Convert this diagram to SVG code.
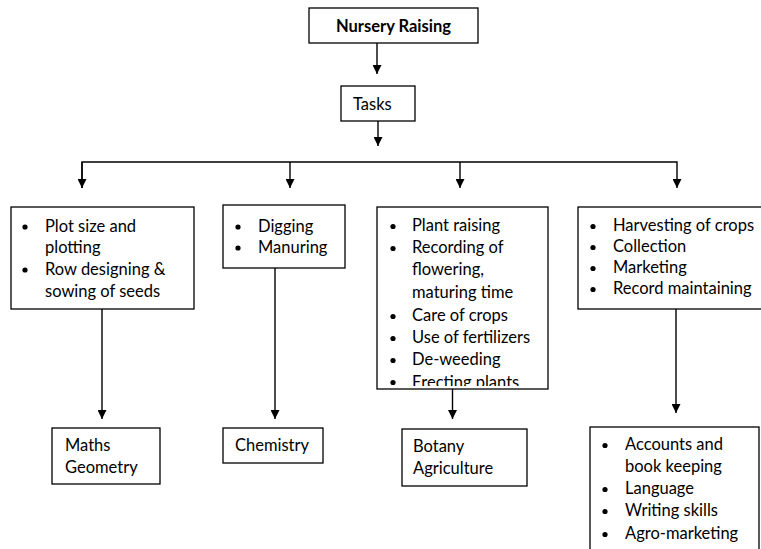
<svg xmlns="http://www.w3.org/2000/svg" width="761" height="549" viewBox="0 0 761 549">
<style>
.box{fill:#fff;stroke:#000;stroke-width:1.3}
.t{font-family:Lato,"Open Sans",sans-serif;font-size:16.5px;fill:#000}
.b{font-weight:bold}
.con{fill:none;stroke:#000;stroke-width:1.4}
.dot{fill:#000}
</style>
<defs>
<marker id="ah" markerUnits="userSpaceOnUse" markerWidth="9" markerHeight="9" refX="9" refY="4.5" orient="auto">
<path d="M0,0 L9,4.5 L0,9 z" fill="#000"/>
</marker>
<clipPath id="clip3"><rect x="377" y="207" width="171" height="179"/></clipPath>
</defs>
<rect width="761" height="549" fill="#fff"/>
<g id="connectors">
<line class="con" x1="377" y1="43" x2="377" y2="74" marker-end="url(#ah)"/>
<line class="con" x1="378" y1="121" x2="378" y2="146" marker-end="url(#ah)"/>
<polyline class="con" points="82,188 82,162 677,162 677,188" marker-end="url(#ah)"/>
<line class="con" x1="82" y1="162" x2="82" y2="188" marker-end="url(#ah)"/>
<line class="con" x1="290" y1="162" x2="290" y2="188" marker-end="url(#ah)"/>
<line class="con" x1="460" y1="162" x2="460" y2="188" marker-end="url(#ah)"/>
<line class="con" x1="102" y1="309" x2="102" y2="419" marker-end="url(#ah)"/>
<line class="con" x1="275" y1="268" x2="275" y2="419" marker-end="url(#ah)"/>
<line class="con" x1="452.5" y1="389" x2="452.5" y2="419" marker-end="url(#ah)"/>
<line class="con" x1="676" y1="309" x2="676" y2="413" marker-end="url(#ah)"/>
</g>
<g id="nursery">
<rect class="box" x="309" y="8" width="169" height="35"/>
<text class="t b" x="393.5" y="31.5" text-anchor="middle">Nursery Raising</text>
</g>
<g id="tasks">
<rect class="box" x="341" y="86" width="74" height="35"/>
<text class="t" x="353" y="109.5">Tasks</text>
</g>
<g id="task1">
<rect class="box" x="11" y="207" width="183" height="102"/>
<circle class="dot" cx="25" cy="227" r="2.6"/>
<circle class="dot" cx="25" cy="270" r="2.6"/>
<text class="t" x="45" y="232">Plot size and</text>
<text class="t" x="45" y="253">plotting</text>
<text class="t" x="45" y="275">Row designing &amp;</text>
<text class="t" x="45" y="297">sowing of seeds</text>
</g>
<g id="task2">
<rect class="box" x="223" y="205" width="122" height="63"/>
<circle class="dot" cx="238" cy="227" r="2.6"/>
<circle class="dot" cx="238" cy="248" r="2.6"/>
<text class="t" x="258" y="232">Digging</text>
<text class="t" x="258" y="253">Manuring</text>
</g>
<g id="task3">
<rect class="box" x="377" y="207" width="171" height="182"/>
<g clip-path="url(#clip3)">
<circle class="dot" cx="393" cy="226.5" r="2.6"/>
<circle class="dot" cx="393" cy="248.5" r="2.6"/>
<circle class="dot" cx="393" cy="316.5" r="2.6"/>
<circle class="dot" cx="393" cy="338.5" r="2.6"/>
<circle class="dot" cx="393" cy="360.5" r="2.6"/>
<circle class="dot" cx="393" cy="382.5" r="2.6"/>
<text class="t" x="412" y="231">Plant raising</text>
<text class="t" x="412" y="253">Recording of</text>
<text class="t" x="412" y="275">flowering,</text>
<text class="t" x="412" y="298">maturing time</text>
<text class="t" x="412" y="321">Care of crops</text>
<text class="t" x="412" y="343">Use of fertilizers</text>
<text class="t" x="412" y="365">De-weeding</text>
<text class="t" x="412" y="387.5">Erecting plants</text>
</g>
</g>
<g id="task4">
<rect class="box" x="578" y="207" width="200" height="102"/>
<circle class="dot" cx="593" cy="226.5" r="2.6"/>
<circle class="dot" cx="593" cy="247.5" r="2.6"/>
<circle class="dot" cx="593" cy="268.5" r="2.6"/>
<circle class="dot" cx="593" cy="289.5" r="2.6"/>
<text class="t" x="613" y="231">Harvesting of crops</text>
<text class="t" x="613" y="252">Collection</text>
<text class="t" x="613" y="273">Marketing</text>
<text class="t" x="613" y="294">Record maintaining</text>
</g>
<g id="maths">
<rect class="box" x="52" y="428" width="108" height="56"/>
<text class="t" x="65" y="451">Maths</text>
<text class="t" x="65" y="473">Geometry</text>
</g>
<g id="chemistry">
<rect class="box" x="223" y="428" width="100" height="35"/>
<text class="t" x="235" y="451">Chemistry</text>
</g>
<g id="botany">
<rect class="box" x="402" y="429" width="125" height="57"/>
<text class="t" x="413" y="452">Botany</text>
<text class="t" x="413" y="474">Agriculture</text>
</g>
<g id="skills">
<rect class="box" x="590" y="427" width="169" height="140"/>
<circle class="dot" cx="605" cy="445.5" r="2.6"/>
<circle class="dot" cx="605" cy="489.5" r="2.6"/>
<circle class="dot" cx="605" cy="511.5" r="2.6"/>
<circle class="dot" cx="605" cy="534.5" r="2.6"/>
<text class="t" x="625" y="450">Accounts and</text>
<text class="t" x="625" y="472">book keeping</text>
<text class="t" x="625" y="494">Language</text>
<text class="t" x="625" y="516">Writing skills</text>
<text class="t" x="625" y="539">Agro-marketing</text>
</g>
</svg>
